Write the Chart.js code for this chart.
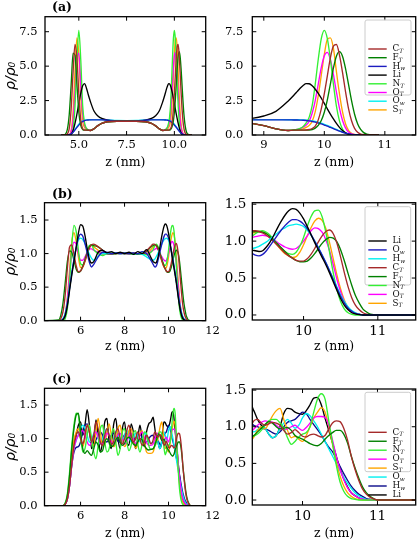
<!DOCTYPE html>
<html>
<head>
<meta charset="utf-8">
<script src="https://cdn.jsdelivr.net/npm/chart.js@4.4.0/dist/chart.umd.min.js"></script>
<style>
  html, body { margin: 0; padding: 0; background: #fff; }
  #fig { position: relative; width: 418px; height: 541px; overflow: hidden; background: #fff; }
  canvas { position: absolute; }
  .tag { position: absolute; font: bold 12.5px "DejaVu Serif", serif; line-height: 1; color: #000; }
</style>
</head>
<body>
<div id="fig">
  <canvas id="aL"></canvas>
  <canvas id="bL"></canvas>
  <canvas id="cL"></canvas>
  <canvas id="aR"></canvas>
  <canvas id="bR"></canvas>
  <canvas id="cR"></canvas>
  <div class="tag" style="left:52px;top:1px">(a)</div>
  <div class="tag" style="left:52px;top:187.5px">(b)</div>
  <div class="tag" style="left:52px;top:373px">(c)</div>
</div>
<script>
// ---- (a) profiles, z in nm
const zA = [4.1,4.2,4.3,4.4,4.5,4.6,4.7,4.8,4.9,5.0,5.1,5.2,5.3,5.4,5.5,5.6,5.8,6.0,6.2,6.5,7.0,7.5,8.0,8.5,8.8,9.0,9.2,9.4,
  9.5,9.55,9.6,9.65,9.7,9.75,9.8,9.85,9.9,9.95,10.0,10.05,10.1,10.15,10.2,10.25,10.3,10.35,10.4,10.45,10.5,10.55,10.6,10.65,10.7,10.75,10.8,10.9];
const ctA = [0,0,0.01,0.07,0.48,1.92,4.57,6.57,5.6,3.0,1.1,0.47,0.36,0.35,0.35,0.33, 0.45,0.68,0.85,0.96,1.0,1.0,1.0,0.96,0.85,0.68,0.45,0.33,
  0.35,0.35,0.35,0.35,0.36,0.4,0.47,0.65,1.1,1.9,3.0,4.3,5.6,6.45,6.57,5.82,4.57,3.16,1.92,1.03,0.48,0.2,0.07,0.02,0.01,0,0,0];
const ftA = [0,0,0.07,0.4,1.51,3.67,5.95,5.8,3.7,1.65,0.7,0.4,0.35,0.35,0.35,0.33, 0.45,0.68,0.85,0.96,1.0,1.0,1.0,0.96,0.85,0.68,0.45,0.33,
  0.35,0.35,0.35,0.35,0.35,0.36,0.4,0.5,0.7,1.05,1.65,2.55,3.7,4.85,5.72,6.05,5.72,4.84,3.67,2.49,1.51,0.82,0.4,0.17,0.07,0.02,0,0];
const hwA = [0,0,0,0,0.02,0.08,0.2,0.37,0.55,0.72,0.87,0.98,1.05,1.08,1.09,1.1, 1.1,1.1,1.1,1.08,1.04,1.03,1.04,1.08,1.1,1.1,1.1,1.1,
  1.09,1.09,1.08,1.07,1.05,1.02,0.98,0.93,0.87,0.8,0.72,0.64,0.55,0.46,0.37,0.28,0.2,0.13,0.08,0.04,0.02,0.01,0,0,0,0,0,0];
const liA = [0,0,0,0,0.01,0.06,0.32,0.84,1.52,2.3,3.02,3.57,3.73,3.4,2.9,2.45, 1.72,1.38,1.2,1.08,1.02,1.0,1.02,1.08,1.2,1.38,1.72,2.45,
  2.9,3.15,3.4,3.6,3.73,3.72,3.57,3.32,3.02,2.67,2.3,1.9,1.52,1.17,0.84,0.55,0.32,0.15,0.06,0.02,0.01,0,0,0,0,0,0,0];
const ntA = [0,0,0,0,0,0.05,0.43,2.1,5.5,7.6,5.5,2.15,0.88,0.48,0.36,0.33, 0.45,0.68,0.85,0.96,1.0,1.0,1.0,0.96,0.85,0.68,0.45,0.33,
  0.36,0.4,0.48,0.62,0.88,1.3,2.15,3.7,5.5,7.0,7.6,7.0,5.5,3.7,2.1,1.03,0.43,0.15,0.05,0.01,0,0,0,0,0,0,0,0];
const otA = [0,0,0,0,0.03,0.22,1.07,3.12,5.47,5.95,3.7,1.6,0.72,0.47,0.37,0.33, 0.45,0.68,0.85,0.96,1.0,1.0,1.0,0.96,0.85,0.68,0.45,0.33,
  0.37,0.41,0.47,0.57,0.72,1.0,1.6,2.5,3.7,4.9,5.76,6.0,5.47,4.4,3.12,1.95,1.07,0.52,0.22,0.08,0.03,0.01,0,0,0,0,0,0];
const owA = [0,0,0,0,0.02,0.08,0.22,0.4,0.6,0.78,0.93,1.03,1.08,1.1,1.11,1.11, 1.12,1.12,1.12,1.1,1.05,1.04,1.05,1.1,1.12,1.12,1.12,1.11,
  1.11,1.11,1.1,1.09,1.08,1.06,1.03,0.99,0.93,0.86,0.78,0.69,0.6,0.5,0.4,0.31,0.22,0.14,0.08,0.04,0.02,0.01,0,0,0,0,0,0];
const stA = [0,0,0,0,0.04,0.34,1.69,4.6,7.05,5.85,2.85,1.0,0.55,0.4,0.35,0.33, 0.45,0.68,0.85,0.96,1.0,1.0,1.0,0.96,0.85,0.68,0.45,0.33,
  0.35,0.37,0.4,0.45,0.55,0.7,1.0,1.7,2.85,4.35,5.85,6.95,7.05,6.3,4.6,3.0,1.69,0.82,0.34,0.12,0.04,0.01,0,0,0,0,0,0];

// ---- (b) profiles
const zB = [4.3, 5.0,5.1,5.2,5.3,5.4,5.5,5.6,5.7,5.8,5.9,6.0,6.1,6.2,6.3,6.4,6.5,6.6,
  6.8,7.0,7.2,7.4,7.6,7.8,8.0,8.2,8.4,8.6,8.8,9.0,9.2,
  9.3,9.35,9.4,9.45,9.5,9.55,9.6,9.65,9.7,9.75,9.8,9.85,9.9,9.95,10.0,10.05,10.1,10.15,10.2,10.25,
  10.3,10.35,10.4,10.45,10.5,10.55,10.6,10.65,10.7,10.75,10.8,10.85,10.9, 11.0,11.7];
const liB = [0, 0,0,0.015,0.07,0.22,0.45,0.68,0.88,1.09,1.3,1.43,1.41,1.27,1.08,0.92,0.86,0.88,
  1.02,1.05,1.01,1.03,1.0,1.02,1.0,1.02,0.99,1.03,1.0,1.06,0.94,
  0.88,0.87,0.86,0.87,0.92,0.99,1.08,1.18,1.27,1.35,1.41,1.44,1.43,1.38,1.3,1.2,1.09,0.98,0.88,0.78,
  0.68,0.57,0.45,0.33,0.22,0.13,0.07,0.03,0.015,0.005,0,0,0, 0,0];
const owB = [0, 0,0,0.02,0.09,0.25,0.48,0.71,0.91,1.09,1.23,1.29,1.26,1.15,1.01,0.87,0.8,0.84,
  0.95,1.02,1.02,1.0,1.01,1.0,1.01,1.0,1.01,1.0,1.03,1.0,0.9,
  0.84,0.81,0.8,0.82,0.87,0.94,1.01,1.08,1.15,1.21,1.26,1.29,1.29,1.27,1.23,1.17,1.09,1.0,0.91,0.81,
  0.71,0.6,0.48,0.36,0.25,0.16,0.09,0.05,0.02,0.01,0,0,0, 0,0];
const hwB = [0, 0,0,0.03,0.11,0.27,0.49,0.71,0.91,1.08,1.2,1.23,1.21,1.15,1.07,0.99,0.93,0.9,
  0.96,1.0,1.0,1.0,1.01,1.0,1.0,1.01,1.0,1.0,0.99,0.95,0.91,
  0.9,0.91,0.93,0.96,0.99,1.03,1.07,1.11,1.15,1.18,1.21,1.22,1.23,1.22,1.2,1.15,1.08,1.0,0.91,0.81,
  0.71,0.6,0.49,0.38,0.27,0.18,0.11,0.06,0.03,0.01,0,0,0, 0,0];
const ctB = [0, 0,0.03,0.13,0.38,0.78,1.1,1.13,0.99,0.82,0.73,0.74,0.8,0.89,0.99,1.08,1.13,1.14,
  1.1,1.05,1.0,0.99,1.01,1.01,1.0,1.0,1.01,1.0,0.99,1.04,1.11,
  1.14,1.14,1.13,1.11,1.08,1.04,0.99,0.94,0.89,0.84,0.8,0.77,0.74,0.73,0.73,0.76,0.82,0.9,0.99,1.07,
  1.13,1.15,1.1,0.97,0.78,0.57,0.38,0.23,0.13,0.07,0.03,0.01,0, 0,0];
const ftB = [0, 0.01,0.08,0.26,0.56,0.88,1.04,1.02,0.9,0.77,0.72,0.74,0.81,0.91,1.01,1.1,1.13,1.12,
  1.1,1.05,1.0,0.99,1.0,1.01,1.0,1.0,1.0,0.99,0.99,1.03,1.1,
  1.12,1.13,1.13,1.12,1.1,1.06,1.01,0.96,0.91,0.86,0.81,0.77,0.74,0.72,0.72,0.73,0.77,0.83,0.9,0.97,
  1.02,1.05,1.04,0.99,0.88,0.73,0.56,0.4,0.26,0.16,0.08,0.04,0.01, 0,0];
const ntB = [0, 0,0,0,0.03,0.18,0.57,1.12,1.42,1.33,1.05,0.85,0.83,0.9,1.02,1.12,1.13,1.06,
  1.0,0.97,1.0,1.01,1.0,1.0,1.01,1.0,0.99,1.0,1.01,0.98,1.02,
  1.06,1.1,1.13,1.14,1.12,1.08,1.02,0.96,0.9,0.86,0.83,0.82,0.85,0.93,1.05,1.2,1.33,1.41,1.42,1.33,
  1.12,0.85,0.57,0.34,0.18,0.08,0.03,0.01,0,0,0,0,0, 0,0];
const otB = [0, 0,0,0.02,0.09,0.31,0.68,1.02,1.17,1.14,1.0,0.9,0.9,0.95,1.02,1.07,1.07,1.05,
  1.02,1.0,1.0,1.01,1.0,1.0,1.0,1.0,1.0,1.0,1.0,1.0,1.03,
  1.05,1.06,1.07,1.08,1.07,1.05,1.02,0.98,0.95,0.92,0.9,0.89,0.9,0.94,1.0,1.07,1.14,1.18,1.17,1.12,
  1.02,0.87,0.68,0.48,0.31,0.18,0.09,0.04,0.02,0.01,0,0,0, 0,0];
const stB = [0, 0,0,0.02,0.1,0.35,0.76,1.17,1.31,1.18,0.95,0.79,0.8,0.88,1.0,1.1,1.13,1.1,
  1.05,0.99,1.0,1.01,1.0,1.0,1.0,1.01,1.0,1.0,1.0,1.0,1.06,
  1.1,1.12,1.13,1.12,1.1,1.06,1.0,0.94,0.88,0.83,0.8,0.78,0.79,0.85,0.95,1.07,1.18,1.27,1.31,1.28,
  1.17,0.98,0.76,0.54,0.35,0.2,0.1,0.05,0.02,0.01,0,0,0, 0,0];

// ---- (c) profiles
const zC = [4.4,
  5.2,5.3,5.4,5.5,5.6,5.7,5.8,5.9,6.0,6.1, 6.2,6.3,6.4,6.5,6.6,6.7,6.8,6.9,7.0,7.1,
  7.2,7.3,7.4,7.5,7.6,7.7,7.8,7.9,8.0,8.1, 8.2,8.3,8.4,8.5,8.6,8.7,8.8,8.9,9.0,9.1, 9.2,
  9.3,9.35,9.4,9.45,9.5,9.55,9.6,9.65,9.7,9.75, 9.8,9.85,9.9,9.95,10.0,10.05,10.1,10.15,10.2,10.25,
  10.3,10.35,10.4,10.45,10.5,10.55,10.6,10.65,10.7,10.75, 10.8,10.85,10.9,10.95,11.0, 11.7];
const ctC = [0,
  0,0.02,0.1,0.3,0.62,0.9,1.05,1.1,1.0,0.92, 1.05,1.2,1.1,0.95,1.05,1.25,1.15,0.95,0.9,1.05,
  1.15,1.05,0.92,0.95,1.1,1.15,1.0,0.92,1.0,1.12, 1.2,1.05,0.95,1.0,1.1,1.0,0.9,0.95,1.05,1.0, 0.92,
  0.98,1.08,1.1,1.05,1.02,1.04,1.06,1.05,1.02,0.95, 0.9,0.92,0.96,0.92,0.87,0.86,0.89,0.9,0.88,0.86,
  0.88,0.97,1.05,1.08,1.07,0.98,0.82,0.6,0.42,0.27, 0.15,0.08,0.04,0.015,0, 0];
const ftC = [0,
  0,0.03,0.15,0.45,0.85,1.15,1.35,1.38,1.1,0.85, 0.78,0.82,0.78,0.75,0.85,0.95,0.9,0.8,0.82,0.95,
  1.0,0.95,0.88,0.9,0.98,1.02,0.95,0.9,0.93,1.0, 1.02,0.98,0.92,0.9,0.95,1.0,0.98,0.9,0.85,0.83, 0.84,
  0.85,0.88,0.93,0.98,1.03,1.07,1.05,1.0,0.97,0.98, 0.99,0.95,0.88,0.85,0.83,0.8,0.77,0.75,0.74,0.77,
  0.83,0.88,0.92,0.95,0.95,0.9,0.78,0.6,0.44,0.3, 0.18,0.1,0.05,0.02,0, 0];
const ntC = [0,
  0,0.04,0.18,0.5,0.9,1.2,1.38,1.35,1.05,0.8, 0.85,1.05,1.2,1.0,0.8,0.7,0.9,1.15,1.2,0.95,
  0.8,0.85,1.05,1.15,0.95,0.75,0.85,1.1,1.15,0.95, 0.82,0.9,1.08,1.12,0.92,0.8,0.92,1.1,1.08,0.9, 0.84,
  0.85,0.87,0.9,0.95,1.02,1.08,1.1,1.1,1.05,0.98, 0.85,0.76,0.8,0.86,0.9,0.92,1.0,1.2,1.38,1.45,
  1.38,1.08,0.78,0.48,0.25,0.12,0.05,0.02,0.01,0, 0,0,0,0,0, 0];
const otC = [0,
  0,0.02,0.1,0.3,0.6,0.85,0.98,1.05,1.1,1.12, 1.05,0.95,0.9,0.95,1.05,1.1,1.02,0.93,0.92,1.0,
  1.08,1.05,0.96,0.92,0.98,1.06,1.08,1.0,0.92,0.95, 1.04,1.08,1.0,0.93,0.95,1.05,1.1,1.02,0.94,0.9, 0.9,
  0.92,0.97,1.02,1.06,1.08,1.07,1.06,1.02,0.98,0.96, 0.97,1.0,1.02,0.98,0.95,0.99,1.05,1.12,1.14,1.14,
  1.13,1.02,0.82,0.6,0.42,0.28,0.17,0.1,0.06,0.03, 0.015,0.005,0,0,0, 0];
const stC = [0,
  0,0.02,0.12,0.38,0.72,0.98,1.1,1.15,1.0,0.88, 1.0,1.2,1.15,0.95,0.9,1.1,1.3,1.1,0.9,0.92,
  1.1,1.22,1.05,0.88,0.95,1.15,1.2,1.0,0.88,0.95, 1.12,1.15,0.98,0.86,0.92,1.08,1.12,0.95,0.8,0.78, 0.78,
  0.8,0.86,0.95,1.0,0.97,1.05,1.15,1.22,1.25,1.1, 0.95,0.85,0.87,0.83,0.8,0.88,1.0,1.12,1.2,1.26,
  1.2,1.0,0.76,0.52,0.33,0.19,0.1,0.05,0.02,0.01, 0,0,0,0,0, 0];
const owC = [0,
  0,0.02,0.1,0.32,0.62,0.85,0.97,1.05,1.15,1.2, 1.15,1.05,0.95,0.98,1.08,1.12,1.0,0.92,1.0,1.1,
  1.15,1.05,0.95,1.0,1.1,1.08,0.97,0.95,1.05,1.12, 1.02,0.95,1.0,1.08,1.05,0.95,0.98,1.08,1.05,0.95, 0.93,
  0.95,0.93,0.96,1.0,0.98,0.9,0.85,0.88,0.98,1.05, 1.1,1.05,0.98,1.02,1.12,1.18,1.15,1.08,1.0,0.9,
  0.8,0.7,0.6,0.5,0.4,0.31,0.23,0.16,0.1,0.06, 0.03,0.01,0,0,0, 0];
const hwC = [0,
  0,0.02,0.1,0.3,0.6,0.8,0.87,0.88,0.95,1.1, 1.2,1.22,1.1,0.95,0.92,0.98,1.05,1.1,1.05,0.97,
  0.95,1.0,1.05,1.08,1.02,0.96,0.95,1.0,1.06,1.08, 1.03,0.97,0.95,1.0,1.05,1.06,1.02,0.96,0.95,1.0, 1.04,
  1.05,1.02,1.0,0.98,0.97,0.95,0.92,0.9,0.93,1.0, 1.06,1.08,1.1,1.15,1.2,1.18,1.1,1.03,0.96,0.89,
  0.8,0.72,0.66,0.56,0.46,0.36,0.27,0.19,0.13,0.08, 0.05,0.02,0.01,0,0, 0];
const liC = [0,
  0,0.03,0.12,0.35,0.65,0.9,1.05,1.2,1.25,1.05, 1.2,1.43,1.2,0.85,0.95,1.28,1.05,0.8,0.95,1.25,
  1.3,0.95,0.85,1.2,1.3,1.0,0.85,1.15,1.25,0.95, 0.9,1.22,1.1,0.85,1.0,1.2,1.0,0.88,1.1,1.22, 1.25,
  1.32,1.22,1.1,1.02,0.98,0.9,0.85,0.88,1.0,1.18, 1.25,1.24,1.2,1.18,1.17,1.22,1.3,1.39,1.4,1.3,
  1.12,0.95,0.78,0.6,0.43,0.29,0.18,0.1,0.06,0.03, 0.015,0.005,0,0,0, 0];

const BROWN = '#a52a2a', GREEN = '#008000', BLUE = '#1c1cc0', BLACK = '#000000',
      LIME = '#33f033', MAGENTA = '#ff00ff', CYAN = '#00f0f0', ORANGE = '#ffa500', NAVY = '#0a0a8a';

const setA = [['C_T', ctA, BROWN], ['F_T', ftA, GREEN], ['H_w', hwA, BLUE], ['Li', liA, BLACK],
              ['N_T', ntA, LIME], ['O_T', otA, MAGENTA], ['O_w', owA, CYAN], ['S_T', stA, ORANGE]];
const setB = [['Li', liB, BLACK], ['O_w', owB, BLUE], ['H_w', hwB, CYAN], ['C_T', ctB, BROWN],
              ['F_T', ftB, GREEN], ['N_T', ntB, LIME], ['O_T', otB, MAGENTA], ['S_T', stB, ORANGE]];
const setC = [['C_T', ctC, BROWN], ['F_T', ftC, GREEN], ['N_T', ntC, LIME], ['O_T', otC, MAGENTA],
              ['S_T', stC, ORANGE], ['O_w', owC, CYAN], ['H_w', hwC, NAVY], ['Li', liC, BLACK]];

const SERIF = '"DejaVu Serif", serif';

// frame with inward ticks on all four sides
const framePlugin = {
    id: 'frame',
    afterDatasetsDraw(chart) {
        const { ctx, chartArea: a } = chart;
        const xs = chart.scales.x, ys = chart.scales.y;
        const len = 4;
        ctx.save();
        ctx.strokeStyle = '#000';
        ctx.lineWidth = 1;
        ctx.beginPath();
        for (const t of xs.ticks) {
            if (t.value < xs.min || t.value > xs.max) continue;
            const px = xs.getPixelForValue(t.value);
            ctx.moveTo(px, a.bottom); ctx.lineTo(px, a.bottom - len);
            ctx.moveTo(px, a.top); ctx.lineTo(px, a.top + len);
        }
        for (const t of ys.ticks) {
            if (t.value < ys.min || t.value > ys.max) continue;
            const py = ys.getPixelForValue(t.value);
            ctx.moveTo(a.left, py); ctx.lineTo(a.left + len, py);
            ctx.moveTo(a.right, py); ctx.lineTo(a.right - len, py);
        }
        ctx.stroke();
        ctx.lineWidth = 1.3;
        ctx.strokeRect(a.left, a.top, a.right - a.left, a.bottom - a.top);
        ctx.restore();
    }
};

// legend with subscripts (C_T -> C with small italic T)
const legendPlugin = {
    id: 'subLegend',
    afterDatasetsDraw(chart, args, opts) {
        if (!opts || !opts.box) return;
        const ctx = chart.ctx;
        const [bx, by, bw, bh] = opts.box;
        ctx.save();
        ctx.beginPath();
        const r = 2;
        ctx.moveTo(bx + r, by);
        ctx.arcTo(bx + bw, by, bx + bw, by + bh, r);
        ctx.arcTo(bx + bw, by + bh, bx, by + bh, r);
        ctx.arcTo(bx, by + bh, bx, by, r);
        ctx.arcTo(bx, by, bx + bw, by, r);
        ctx.closePath();
        ctx.fillStyle = 'rgba(255,255,255,0.8)';
        ctx.fill();
        ctx.strokeStyle = '#cccccc';
        ctx.lineWidth = 1;
        ctx.stroke();
        chart.data.datasets.forEach((ds, i) => {
            const yy = by + opts.first + i * opts.step;
            ctx.strokeStyle = ds.borderColor;
            ctx.lineWidth = 1.4;
            ctx.beginPath();
            ctx.moveTo(bx + 3.3, yy);
            ctx.lineTo(bx + 21.7, yy);
            ctx.stroke();
            const [base, sub] = ds.label.split('_');
            ctx.fillStyle = '#111';
            ctx.textBaseline = 'middle';
            ctx.font = '8.8px ' + SERIF;
            ctx.fillText(base, bx + 27.5, yy);
            if (sub) {
                const w = ctx.measureText(base).width;
                ctx.font = 'italic 5.8px ' + SERIF;
                ctx.fillText(sub, bx + 27.5 + w, yy + 2.4);
            }
        });
        ctx.restore();
    }
};

function points(z, ys) {
    return z.map((v, i) => ({ x: v, y: ys[i] }));
}

function makePanel(p) {
    const cv = document.getElementById(p.id);
    const [cl, ct, cw, ch] = p.canvas;
    const [fl, ft, fr, fb] = p.frame;
    cv.width = cw; cv.height = ch;
    cv.style.left = cl + 'px'; cv.style.top = ct + 'px';
    cv.style.width = cw + 'px'; cv.style.height = ch + 'px';

    const legendOpts = p.legend ? {
        box: [p.legend.box[0] - cl, p.legend.box[1] - ct, p.legend.box[2], p.legend.box[3]],
        first: p.legend.first - ct,
        step: p.legend.step
    } : {};

    new Chart(cv, {
        type: 'line',
        data: {
            datasets: p.sets.map(([label, ys, color]) => ({
                label: label,
                data: points(p.z, ys),
                borderColor: color,
                borderWidth: 1.35,
                pointRadius: 0,
                fill: false,
                cubicInterpolationMode: 'monotone'
            }))
        },
        options: {
            responsive: false,
            animation: false,
            devicePixelRatio: 1,
            events: [],
            layout: { padding: { left: 0, top: ft - ct, right: cl + cw - fr, bottom: 0 } },
            plugins: {
                legend: { display: false },
                tooltip: { enabled: false },
                subLegend: legendOpts
            },
            scales: {
                x: {
                    type: 'linear',
                    min: p.x.min, max: p.x.max,
                    afterBuildTicks: s => { s.ticks = p.x.ticks.map(v => ({ value: v })); },
                    afterFit: s => { s.height = ct + ch - fb; s.paddingLeft = 0; s.paddingRight = 0; },
                    grid: { display: false, drawTicks: false },
                    border: { display: false },
                    ticks: {
                        autoSkip: false, maxRotation: 0, padding: 3.5, color: '#000',
                        font: { family: SERIF, size: p.tickSize },
                        callback: v => v.toFixed(p.x.dec)
                    },
                    title: {
                        display: true, text: 'z (nm)', color: '#000',
                        font: { family: SERIF, size: 12.5 },
                        padding: { top: 0, bottom: p.xTitlePad }
                    }
                },
                y: {
                    type: 'linear',
                    min: p.y.min, max: p.y.max,
                    afterBuildTicks: s => { s.ticks = p.y.ticks.map(v => ({ value: v })); },
                    afterFit: s => { s.width = fl - cl; s.paddingTop = 0; s.paddingBottom = 0; },
                    grid: { display: false, drawTicks: false },
                    border: { display: false },
                    ticks: {
                        autoSkip: false, padding: p.yPad, color: '#000',
                        font: { family: SERIF, size: p.tickSize },
                        callback: v => v.toFixed(1)
                    },
                    title: {
                        display: !!p.yTitle, text: 'ρ/ρ₀', color: '#000',
                        font: { family: '"DejaVu Sans", sans-serif', size: 14, style: 'italic' },
                        padding: { top: 3, bottom: 0 }
                    }
                }
            }
        },
        plugins: [framePlugin, legendPlugin]
    });
}

const yTicksA = [0, 2.5, 5, 7.5];
const yTicksB = [0, 0.5, 1, 1.5];

makePanel({ id: 'aL', canvas: [0, 0, 222, 180], frame: [45, 16.7, 205.7, 135], z: zA, sets: setA,
    x: { min: 3.23, max: 11.64, ticks: [5, 7.5, 10], dec: 1 }, y: { min: 0, max: 8.59, ticks: yTicksA },
    tickSize: 11.5, yPad: 7.5, yTitle: true, xTitlePad: 10 });
makePanel({ id: 'aR', canvas: [209, 0, 209, 180], frame: [252.3, 16.7, 415.7, 135], z: zA, sets: setA,
    x: { min: 8.81, max: 11.51, ticks: [9, 10, 11], dec: 0 }, y: { min: 0, max: 8.59, ticks: yTicksA },
    tickSize: 11.5, yPad: 9, xTitlePad: 10,
    legend: { box: [365, 20, 46, 75], first: 29, step: 8.7 } });
makePanel({ id: 'bL', canvas: [0, 180, 222, 180], frame: [44.5, 202.7, 205.7, 320.7], z: zB, sets: setB,
    x: { min: 4.36, max: 11.69, ticks: [6, 8, 10, 12], dec: 0 }, y: { min: 0, max: 1.758, ticks: yTicksB },
    tickSize: 11.5, yPad: 7, yTitle: true, xTitlePad: 6 });
makePanel({ id: 'bR', canvas: [209, 180, 209, 180], frame: [252.3, 202.7, 415.7, 320], z: zB, sets: setB,
    x: { min: 9.31, max: 11.51, ticks: [10, 11], dec: 0 }, y: { min: -0.068, max: 1.52, ticks: yTicksB },
    tickSize: 13.5, yPad: 6, xTitlePad: 6,
    legend: { box: [365, 206.7, 45.7, 78.3], first: 214.3, step: 8.9 } });
makePanel({ id: 'cL', canvas: [0, 360, 222, 181], frame: [44.5, 388.3, 205.7, 505.7], z: zC, sets: setC,
    x: { min: 4.36, max: 11.69, ticks: [6, 8, 10, 12], dec: 0 }, y: { min: 0, max: 1.75, ticks: yTicksB },
    tickSize: 11.5, yPad: 7, yTitle: true, xTitlePad: 0 });
makePanel({ id: 'cR', canvas: [209, 360, 209, 181], frame: [252.3, 389, 415.7, 505], z: zC, sets: setC,
    x: { min: 9.33, max: 11.51, ticks: [10, 11], dec: 0 }, y: { min: -0.068, max: 1.515, ticks: yTicksB },
    tickSize: 13.5, yPad: 6, xTitlePad: 0,
    legend: { box: [365, 392.3, 45.7, 79.4], first: 400, step: 8.95 } });
</script>
</body>
</html>
